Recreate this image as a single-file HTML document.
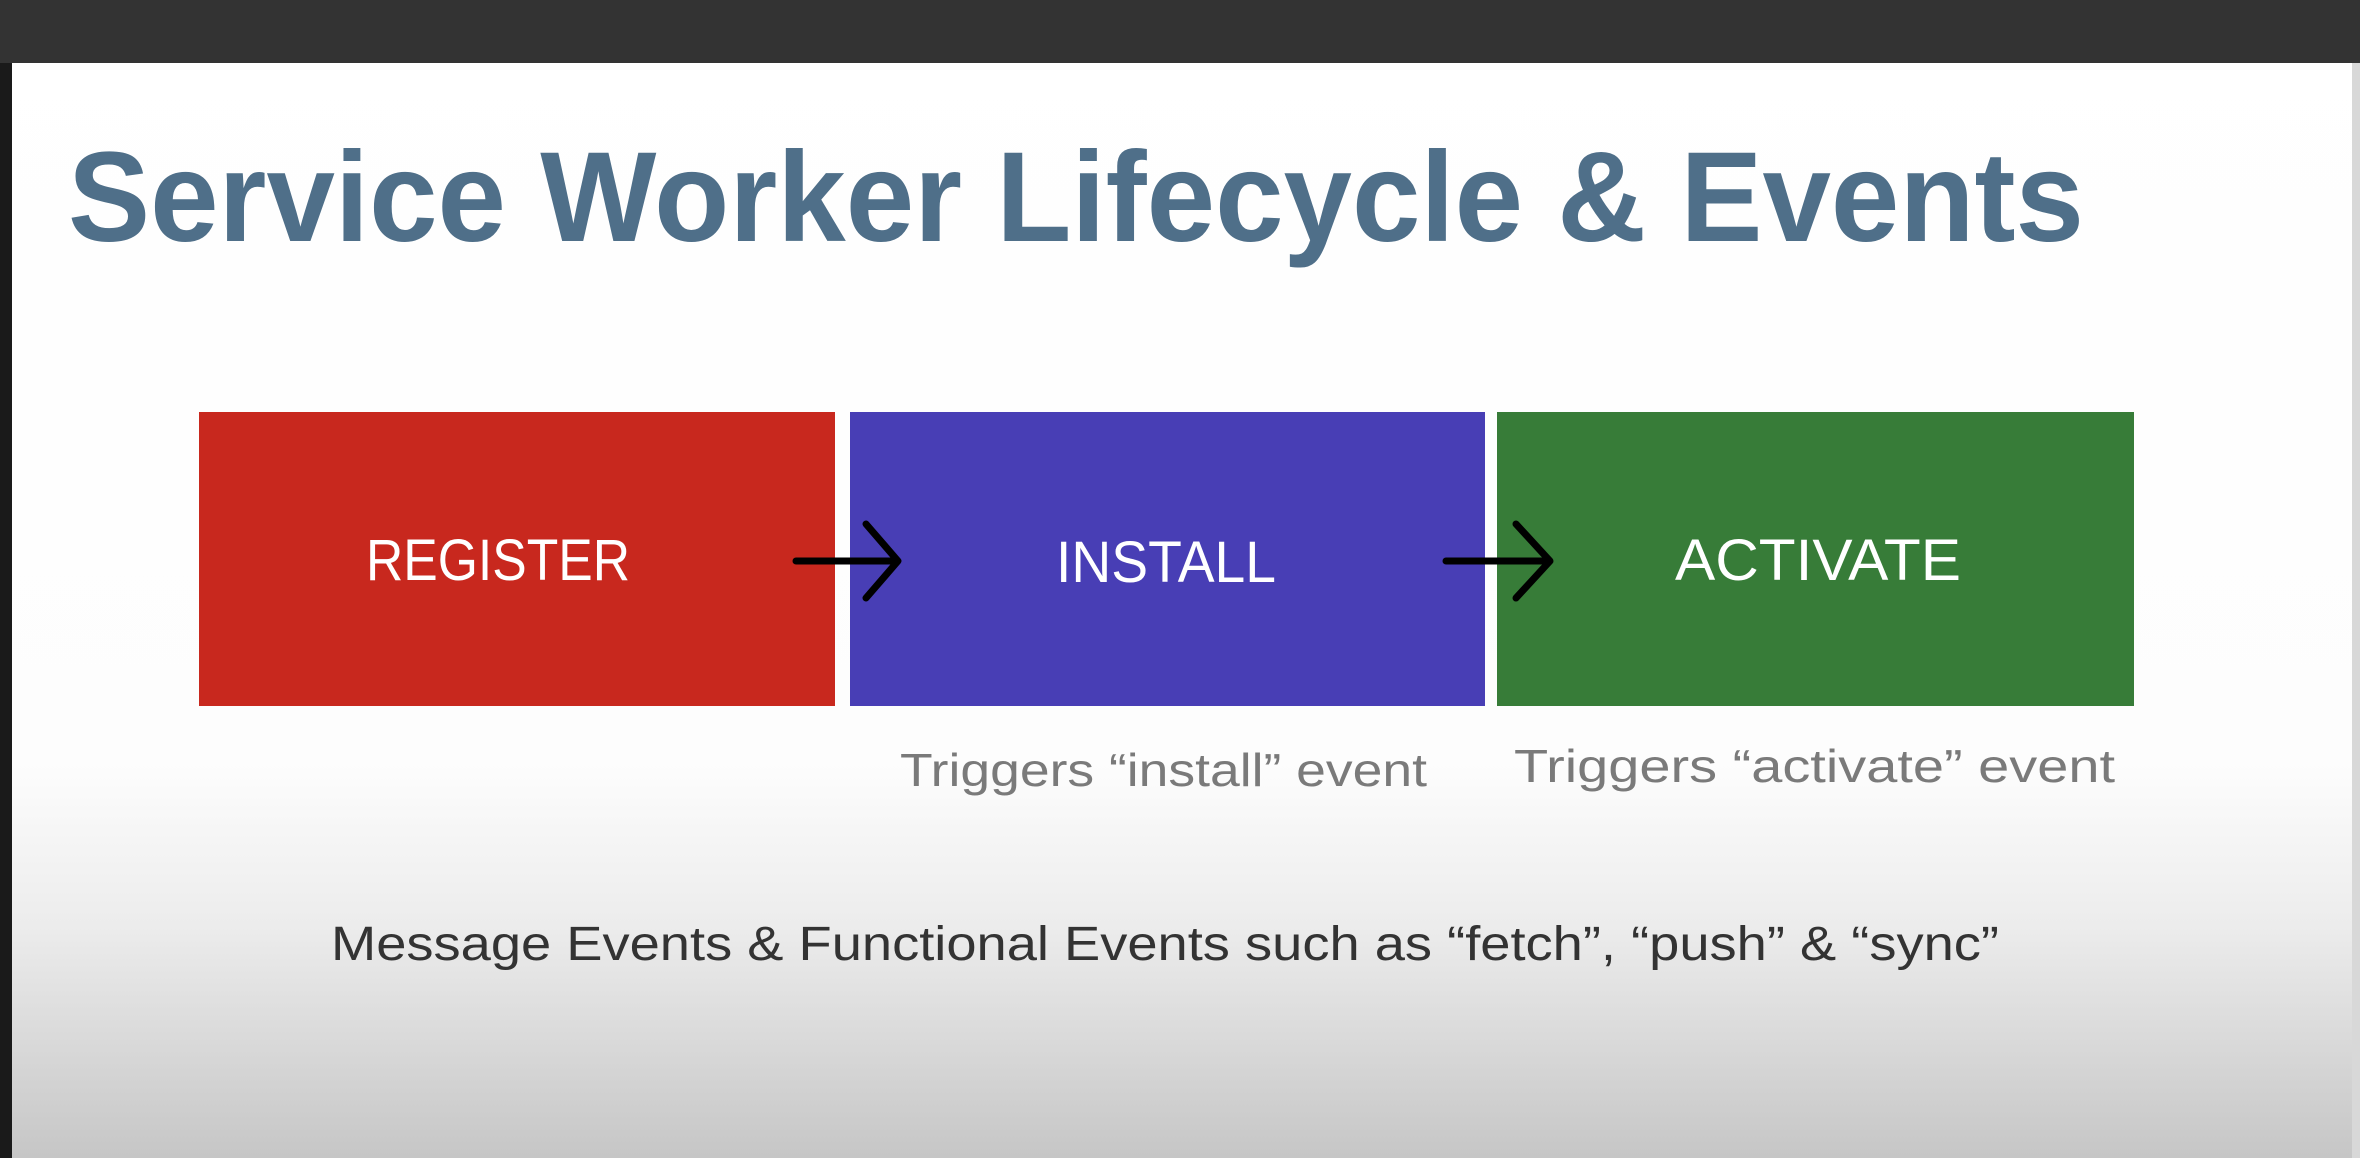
<!DOCTYPE html>
<html><head><meta charset="utf-8"><style>
html,body{margin:0;padding:0;width:2360px;height:1158px;overflow:hidden;background:#fff}
</style></head><body>
<svg width="2360" height="1158" viewBox="0 0 2360 1158" xmlns="http://www.w3.org/2000/svg">
<defs>
<linearGradient id="bg" x1="0" y1="0" x2="0" y2="1">
<stop offset="0" stop-color="#ffffff"/>
<stop offset="0.66" stop-color="#fdfdfd"/>
<stop offset="0.8" stop-color="#ececec"/>
<stop offset="1" stop-color="#c6c6c6"/>
</linearGradient>
</defs>
<rect x="0" y="0" width="2360" height="1158" fill="url(#bg)"/>
<rect x="0" y="0" width="2360" height="63" fill="#333333"/>
<rect x="0" y="63" width="12" height="1095" fill="#1a1a1a"/>
<rect x="2352" y="63" width="8" height="1095" fill="#d8d8d8"/>
<text x="68" y="241" font-family="Liberation Sans, sans-serif" font-weight="bold" font-size="128" fill="#4f6f89" textLength="2016" lengthAdjust="spacingAndGlyphs">Service Worker Lifecycle &amp; Events</text>
<rect x="199" y="412" width="636" height="294" fill="#c8281e"/>
<rect x="850" y="412" width="635" height="294" fill="#483eb5"/>
<rect x="1497" y="412" width="637" height="294" fill="#377c38"/>
<g font-family="Liberation Sans, sans-serif" font-size="58" fill="#ffffff" text-anchor="middle">
<text x="498" y="580" textLength="264" lengthAdjust="spacingAndGlyphs">REGISTER</text>
<text x="1166" y="582" textLength="220" lengthAdjust="spacingAndGlyphs">INSTALL</text>
<text x="1818" y="580" textLength="286" lengthAdjust="spacingAndGlyphs">ACTIVATE</text>
</g>
<g stroke="#000" stroke-width="7" fill="none" stroke-linecap="round" stroke-linejoin="round">
<line x1="796" y1="561" x2="896" y2="561"/>
<polyline points="866,524 898,561 866,598"/>
<line x1="1446" y1="561" x2="1548" y2="561"/>
<polyline points="1516,524 1550,561 1516,598"/>
</g>
<g font-family="Liberation Sans, sans-serif" font-size="46" fill="#7a7a7a">
<text x="900" y="786" textLength="527" lengthAdjust="spacingAndGlyphs">Triggers “install” event</text>
<text x="1514" y="782" textLength="601" lengthAdjust="spacingAndGlyphs">Triggers “activate” event</text>
</g>
<text x="331" y="960" font-family="Liberation Sans, sans-serif" font-size="48" fill="#333" textLength="1668" lengthAdjust="spacingAndGlyphs">Message Events &amp; Functional Events such as “fetch”, “push” &amp; “sync”</text>
</svg>
</body></html>
